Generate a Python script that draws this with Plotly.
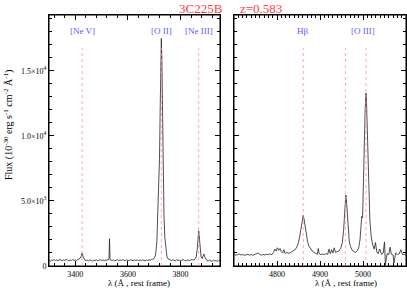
import plotly.graph_objects as go

# ---------------- data ----------------
blue_wave = [3300, 3305, 3310, 3315, 3320, 3325, 3330, 3335, 3340, 3345, 3350, 3355, 3360, 3365, 3370,
             3375, 3380, 3385, 3390, 3395, 3400, 3405, 3410, 3415, 3420, 3423, 3426, 3429, 3432, 3436,
             3440, 3445, 3450, 3455, 3460, 3465, 3470, 3475, 3480, 3485, 3490, 3495, 3500, 3505, 3510,
             3515, 3520, 3525, 3528, 3530, 3532, 3535, 3540, 3545, 3550, 3555, 3560, 3565, 3570, 3575,
             3580, 3585, 3590, 3595, 3600, 3605, 3610, 3615, 3620, 3625, 3630, 3635, 3640, 3645, 3650,
             3655, 3660, 3665, 3670, 3675, 3680, 3685, 3690, 3695, 3700, 3705, 3710, 3714, 3717, 3720,
             3723, 3725, 3727, 3729, 3731, 3734, 3737, 3740, 3744, 3748, 3752, 3756, 3760, 3765, 3770,
             3775, 3780, 3785, 3790, 3795, 3800, 3805, 3810, 3815, 3820, 3825, 3830, 3835, 3840, 3845,
             3850, 3855, 3860, 3864, 3867, 3869, 3871, 3874, 3878, 3882, 3886, 3889, 3892, 3896, 3900,
             3905, 3910, 3915, 3920, 3925, 3930, 3935, 3940, 3945, 3950]
blue_flux = [420, 380, 460, 430, 500, 410, 470, 390, 520, 440, 400, 480, 430, 510, 450,
             400, 470, 420, 490, 440, 460, 430, 500, 540, 620, 800, 1000, 760, 560, 470,
             420, 460, 400, 470, 430, 380, 450, 420, 470, 400, 440, 480, 420, 460, 410,
             450, 430, 480, 500, 2100, 520, 460, 420, 470, 400, 450, 480, 420, 460, 430,
             490, 440, 410, 470, 450, 420, 480, 440, 400, 460, 430, 470, 410, 450, 420,
             470, 440, 400, 460, 430, 480, 450, 500, 520, 600, 850, 1900, 4200, 6600, 8200,
             12500, 15500, 17500, 15800, 12000, 7000, 4000, 2300, 1200, 750, 560, 500, 460, 420, 480,
             440, 400, 470, 430, 460, 410, 450, 490, 430, 400, 470, 440, 420, 480, 450,
             470, 520, 720, 1400, 2400, 2700, 2300, 1300, 700, 580, 800, 920, 700, 500, 430,
             380, 450, 400, 360, 440, 390, 420, 350, 430, 400]

red_wave = [4700, 4704, 4708, 4712, 4716, 4720, 4724, 4728, 4732, 4736, 4740, 4744, 4748, 4752, 4756,
            4760, 4764, 4768, 4772, 4776, 4780, 4784, 4788, 4792, 4795, 4798, 4801, 4804, 4807, 4810,
            4813, 4816, 4819, 4822, 4826, 4830, 4834, 4838, 4842, 4846, 4850, 4853, 4856, 4858, 4860,
            4861, 4863, 4865, 4868, 4871, 4874, 4878, 4882, 4886, 4890, 4894, 4896, 4898, 4902, 4906,
            4910, 4914, 4918, 4921, 4924, 4927, 4930, 4933, 4936, 4940, 4944, 4948, 4952, 4955, 4958,
            4960, 4962, 4965, 4968, 4971, 4975, 4979, 4983, 4987, 4990, 4993, 4995, 4997, 4999, 5001,
            5003, 5005, 5007, 5008, 5010, 5012, 5014, 5016, 5019, 5022, 5026, 5029, 5032, 5035, 5039,
            5043, 5047, 5050, 5052, 5056, 5060, 5063, 5066, 5070, 5072, 5076, 5080, 5084, 5088, 5092,
            5096, 5100]
red_flux = [900, 830, 870, 920, 850, 880, 820, 860, 900, 840, 880, 830, 870, 960, 1000,
            880, 840, 890, 850, 900, 870, 940, 860, 1050, 1300, 1150, 1400, 1200, 1350, 1100,
            1000, 1250, 950, 1050, 980, 1000, 1080, 1150, 1250, 1450, 1800, 2300, 2900, 3450, 3800,
            3900, 3600, 3100, 2400, 1900, 1550, 1300, 1150, 1050, 980, 900, 1350, 950, 880, 920,
            870, 950, 900, 1300, 950, 1250, 1000, 1400, 1050, 1100, 1150, 1350, 1800, 2800, 4500,
            5460, 4800, 2800, 1900, 1500, 1200, 1100, 1050, 1200, 1400, 2000, 2800, 3800, 3700, 5800,
            9200, 12000, 13300, 12800, 10500, 7500, 5200, 3500, 2300, 1700, 1300, 1800, 1100, 950, 1300,
            900, 1000, 1850, 80, 950, 880, 1450, 900, 850, 230, 1000, 880, 920, 1250, 870,
            900, 850]

blue_lines = [3426, 3727, 3869]
blue_labels = ["[Ne V]", "[O II]", "[Ne III]"]
red_lines = [4861, 4959, 5007]
red_label_waves = [4861, 5000]
red_labels = ["H&#946;", "[O III]"]

blue_xticks = [3400, 3600, 3800]
red_xticks = [4800, 4900, 5000]
ytick_vals = [0, 5000, 10000, 15000]
ytick_text = ["0", "5.0×10<sup>3</sup>", "1.0×10<sup>4</sup>", "1.5×10<sup>4</sup>"]
yrange = [0, 19300]

# ---------------- figure ----------------
FONT = "Liberation Serif"
W, H = 407, 290
ML, MR, MT, MB = 49, 1, 15, 24
PW = W - ML - MR
PH = H - MT - MB

def px(x):
    return (x - ML) / PW

def py(y):
    return (H - MB - y) / PH

fig = go.Figure()
fig.add_trace(go.Scatter(x=blue_wave, y=blue_flux, mode="lines",
                         line=dict(color="#222222", width=0.8), xaxis="x", yaxis="y",
                         showlegend=False, hoverinfo="skip"))
fig.add_trace(go.Scatter(x=red_wave, y=red_flux, mode="lines",
                         line=dict(color="#222222", width=0.8), xaxis="x2", yaxis="y2",
                         showlegend=False, hoverinfo="skip"))

axis_common = dict(showline=True, linecolor="black", linewidth=1, mirror="ticks",
                   ticks="inside", ticklen=5, tickcolor="black", tickwidth=1,
                   showgrid=False, zeroline=False,
                   tickfont=dict(family=FONT, size=8, color="black"))

fig.update_layout(
    width=W, height=H,
    margin=dict(l=ML, r=MR, t=MT, b=MB),
    paper_bgcolor="white", plot_bgcolor="white",
    xaxis=dict(domain=[0, px(220)], range=[3300, 3950], tickvals=blue_xticks,
               minor=dict(ticks="inside", ticklen=3, dtick=40, tick0=3400, tickcolor="black"),
               anchor="y", **axis_common),
    yaxis=dict(domain=[0, 1], range=yrange, tickvals=ytick_vals, ticktext=ytick_text,
               minor=dict(ticks="inside", ticklen=3, dtick=1000, tick0=0, tickcolor="black"),
               anchor="x", **axis_common),
    xaxis2=dict(domain=[px(234), 1], range=[4700, 5100], tickvals=red_xticks,
                minor=dict(ticks="inside", ticklen=3, dtick=10, tick0=4800, tickcolor="black"),
                anchor="y2", **axis_common),
    yaxis2=dict(domain=[0, 1], range=yrange, tickvals=ytick_vals, showticklabels=False,
                minor=dict(ticks="inside", ticklen=3, dtick=1000, tick0=0, tickcolor="black"),
                anchor="x2", **axis_common),
)

# frames
for x0, x1 in [(0, px(220)), (px(234), 1)]:
    fig.add_shape(type="rect", xref="paper", yref="paper", x0=x0, x1=x1, y0=0, y1=1,
                  line=dict(color="black", width=1), fillcolor="rgba(0,0,0,0)", layer="above")

line_top = py(48)
for w in blue_lines:
    fig.add_shape(type="line", xref="x", yref="paper", x0=w, x1=w, y0=0, y1=line_top,
                  line=dict(color="#ff9090", width=0.8, dash="dot"))
for w in red_lines:
    fig.add_shape(type="line", xref="x2", yref="paper", x0=w, x1=w, y0=0, y1=line_top,
                  line=dict(color="#ff9090", width=0.8, dash="dot"))

def ann(**kw):
    kw.setdefault("xanchor", "center")
    kw.setdefault("yanchor", "middle")
    fig.add_annotation(showarrow=False, **kw)

label_y = py(31)
for w, t in zip(blue_lines, blue_labels):
    ann(x=w, y=label_y, xref="x", yref="paper", text=t,
        font=dict(family=FONT, size=9, color="#5a5aff"))
for w, t in zip(red_label_waves, red_labels):
    ann(x=w, y=label_y, xref="x2", yref="paper", text=t,
        font=dict(family=FONT, size=9, color="#5a5aff"))

# title
ann(x=px(201), y=py(8), xref="paper", yref="paper", text="3C225B",
    font=dict(family=FONT, size=13, color="#ff4040"))
ann(x=px(261), y=py(8), xref="paper", yref="paper", text="z=0.583",
    font=dict(family=FONT, size=13, color="#ff4040"))

# axis titles
ann(x=px(139), y=py(283), xref="paper", yref="paper", text="λ (Å , rest frame)",
    font=dict(family=FONT, size=9, color="black"))
ann(x=px(346), y=py(283), xref="paper", yref="paper", text="λ (Å , rest frame)",
    font=dict(family=FONT, size=9, color="black"))
ann(x=px(8), y=py(125), xref="paper", yref="paper",
    text="Flux (10<sup>-30</sup> erg s<sup>-1</sup> cm<sup>-2</sup> Å<sup>-1</sup>)",
    textangle=-90, font=dict(family=FONT, size=10, color="black"))

fig.write_html("out.html", config={"displayModeBar": False, "staticPlot": True},
               post_script="document.body.style.margin='0px';")
